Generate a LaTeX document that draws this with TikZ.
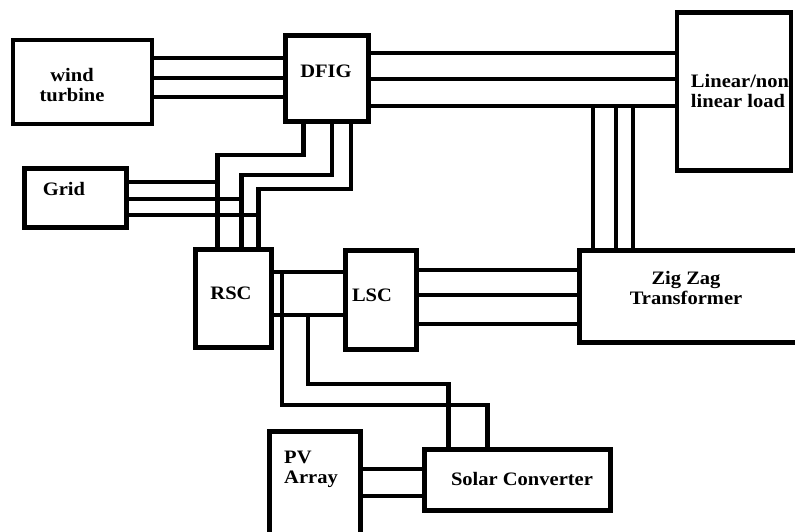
\documentclass[tikz,border=0pt]{standalone}
\usepackage{fontspec}
\setmainfont{Liberation Serif}[FakeStretch=1.08]
\usepackage{tikz}
\usetikzlibrary{calc}

\tikzset{
  blockbox/.style={draw, line width=4.6pt, inner sep=0pt, outer sep=0pt},
  wire/.style={line width=4.8pt},
  lbl/.style={font=\bfseries\fontsize{19}{20}\selectfont, align=center, inner sep=0pt}
}

\begin{document}
\begin{tikzpicture}[x=1pt, y=-1pt]

\useasboundingbox (0,0) rectangle (795,531);

\node[blockbox, minimum width=139pt, minimum height=84pt] (wt) at (82.5,82) {};
\node[blockbox, minimum width=83pt, minimum height=86pt] (dfig) at (327,78.5) {};
\node[blockbox, minimum width=114pt, minimum height=158pt] (load) at (734,91.5) {};
\node[blockbox, minimum width=102pt, minimum height=59pt] (grid) at (75.5,198) {};
\node[blockbox, minimum width=76pt, minimum height=98pt] (rsc) at (233.5,298.5) {};
\node[blockbox, minimum width=71pt, minimum height=99pt] (lsc) at (381,300) {};
\node[blockbox, minimum width=231pt, minimum height=92pt] (zz) at (695,296.5) {};
\node[blockbox, minimum width=186pt, minimum height=61pt] (sc) at (517.5,480) {};
\node[blockbox, minimum width=91pt, minimum height=129pt] (pv) at (315,496) {};

\node[lbl] (wtlbl) at (72,85.5) {wind\\turbine};
\node[lbl] (dfiglbl) at (326,71) {DFIG};
\node[lbl, align=left] (loadlbl) at (740,90.5) {Linear/non\\linear load};
\node[lbl] (gridlbl) at (64,189) {Grid};
\node[lbl] (rsclbl) at (231,293.5) {RSC};
\node[lbl] (lsclbl) at (372,295) {LSC};
\node[lbl] (zzlbl) at (686,288) {Zig Zag\\Transformer};
\node[lbl] (sclbl) at (522,478.5) {Solar Converter};
\node[lbl, align=left] (pvlbl) at (311,469) {PV\\Array};

% wind turbine - DFIG
\foreach \y in {58,78,97} \draw[wire] (wt.east |- 0,\y) -- (dfig.west |- 0,\y);

% DFIG - load
\foreach \y in {53,79,106} \draw[wire] (dfig.east |- 0,\y) -- (load.west |- 0,\y);

% taps down to the zig zag
\foreach \x in {593,616,633} \draw[wire] (load.west |- 0,106) -| (zz.north -| \x,0);

% DFIG rotor - RSC
\coordinate (k1) at (217.5,155);
\coordinate (k2) at (241.5,175);
\coordinate (k3) at (258.5,189);
\draw[wire] (dfig.south -| 303.5,0) |- (k1) -- (rsc.north -| k1);
\draw[wire] (dfig.south -| 332,0) |- (k2) -- (rsc.north -| k2);
\draw[wire] (dfig.south -| 351,0) |- (k3) -- (rsc.north -| k3);

% grid
\foreach \y/\k in {182/k1,199/k2,215/k3} \draw[wire] (grid.east |- 0,\y) -- (\k |- 0,\y);

% RSC - LSC
\foreach \y in {272,315} \draw[wire] (rsc.east |- 0,\y) -- (lsc.west |- 0,\y);

% LSC - zig zag
\foreach \y in {270,295,324} \draw[wire] (lsc.east |- 0,\y) -- (zz.west |- 0,\y);

% dc link - solar converter
\draw[wire] (rsc.east |- 0,272) -| (282,405) -| (sc.north -| 487.5,0);
\draw[wire] (rsc.east |- 0,315) -| (308,384) -| (sc.north -| 448.5,0);

% PV - solar converter
\foreach \y in {469,496} \draw[wire] (pv.east |- 0,\y) -- (sc.west |- 0,\y);

\end{tikzpicture}
\end{document}
